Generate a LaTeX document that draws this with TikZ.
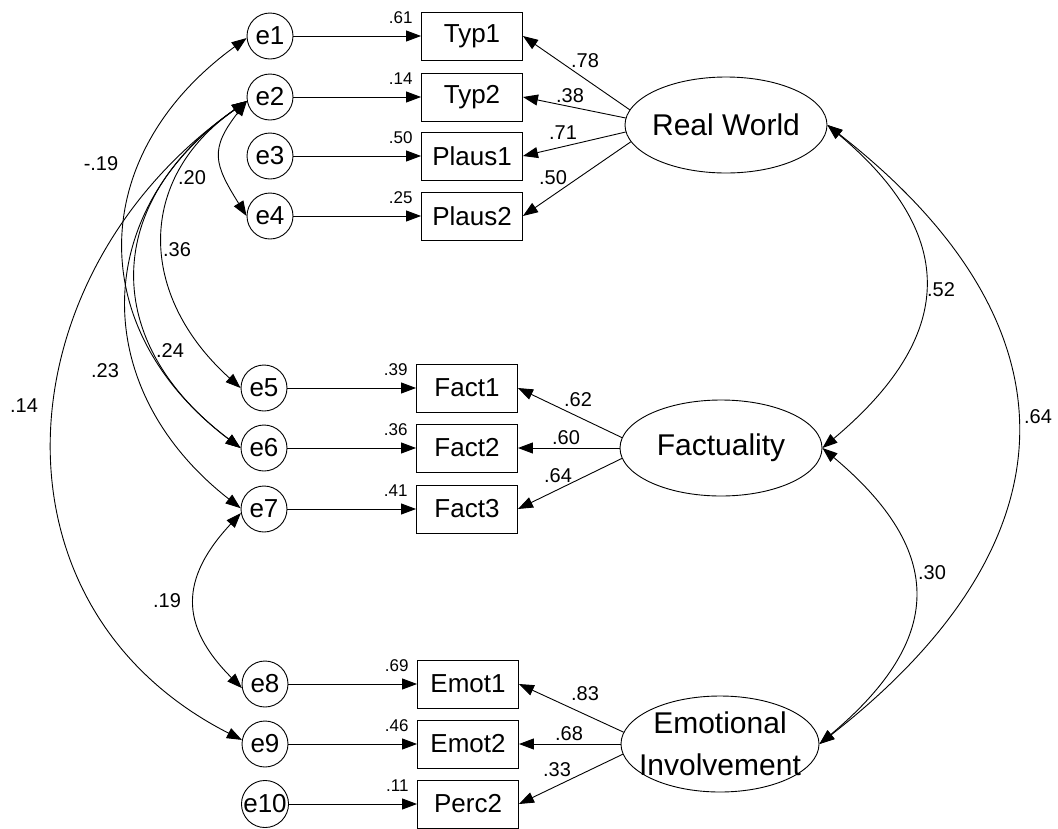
\documentclass[tikz,border=0pt]{standalone}
\usepackage{fontspec}
\setmainfont{Liberation Sans}
\usetikzlibrary{shapes.geometric,arrows.meta}

\begin{document}
\begin{tikzpicture}[x=1pt,y=-1pt,line width=0.9pt,
  err/.style={circle,draw,minimum size=46pt,inner sep=0pt,font=\fontsize{26}{28}\selectfont},
  obs/.style={rectangle,draw,minimum width=101pt,minimum height=48pt,inner sep=0pt,font=\fontsize{26}{28}\selectfont},
  lat/.style={ellipse,draw,minimum width=202pt,minimum height=96pt,inner sep=0pt},
  lattext/.style={align=center,font=\fontsize{30}{42}\selectfont,inner sep=0pt},
  reg/.style={-{Triangle[length=15pt,width=11pt]}},
  cov/.style={{Triangle[length=15pt,width=11pt]}-{Triangle[length=15pt,width=11pt]}},
  coef/.style={font=\fontsize{20}{22}\selectfont,inner sep=0pt},
  rsq/.style={font=\fontsize{17}{19}\selectfont,inner sep=0pt,anchor=north east,xshift=-8pt}]
\useasboundingbox (0,0) rectangle (1058,828);

% error terms
\node[err] (e1) at (270,36) {e1};
\node[err] (e2) at (270,97) {e2};
\node[err] (e3) at (270,156) {e3};
\node[err] (e4) at (270,216) {e4};
\node[err] (e5) at (264,388) {e5};
\node[err] (e6) at (264,448) {e6};
\node[err] (e7) at (264,509) {e7};
\node[err] (e8) at (265,684) {e8};
\node[err] (e9) at (265,744) {e9};
\node[err] (e10) at (265,804) {e10};

% indicators
\node[obs] (Typ1) at (472,36) {Typ1};
\node[obs] (Typ2) at (472,97) {Typ2};
\node[obs] (Plaus1) at (472,156) {Plaus1};
\node[obs] (Plaus2) at (472,216) {Plaus2};
\node[obs] (Fact1) at (467,388) {Fact1};
\node[obs] (Fact2) at (467,448) {Fact2};
\node[obs] (Fact3) at (467,509) {Fact3};
\node[obs] (Emot1) at (468,684) {Emot1};
\node[obs] (Emot2) at (468,744) {Emot2};
\node[obs] (Perc2) at (468,804) {Perc2};

% factors
\node[lat] (RW) at (726,125) {};
\node[lattext] (RWt) at (RW) {Real World};
\node[lat] (Fact) at (721,448) {};
\node[lattext] (Factt) at (Fact) {Factuality};
\node[lat,minimum width=198pt] (EI) at (720,744) {};
\node[lattext] (EIt) at (EI) {Emotional\\Involvement};

% errors to indicators
\draw[reg] (e1) -- (Typ1);
\draw[reg] (e2) -- (Typ2);
\draw[reg] (e3) -- (Plaus1);
\draw[reg] (e4) -- (Plaus2);
\draw[reg] (e5) -- (Fact1);
\draw[reg] (e6) -- (Fact2);
\draw[reg] (e7) -- (Fact3);
\draw[reg] (e8) -- (Emot1);
\draw[reg] (e9) -- (Emot2);
\draw[reg] (e10) -- (Perc2);

% loadings
\draw[reg] (RW.171) -- (Typ1.east);
\draw[reg] (RW.176) -- (Typ2.east);
\draw[reg] (RW.184) -- (Plaus1.east);
\draw[reg] (RW.190) -- (Plaus2.east);
\draw[reg] (Fact.174) -- (Fact1.east);
\draw[reg] (Fact.180) -- (Fact2.east);
\draw[reg] (Fact.186) -- (Fact3.east);
\draw[reg] (EI.173) -- (Emot1.east);
\draw[reg] (EI.180) -- (Emot2.east);
\draw[reg] (EI.186) -- (Perc2.east);

\node[coef] (l1) at (585,61) {.78};
\node[coef] (l2) at (570,96) {.38};
\node[coef] (l3) at (563,133) {.71};
\node[coef] (l4) at (553,178) {.50};
\node[coef] (l5) at (578,400) {.62};
\node[coef] (l6) at (566,438) {.60};
\node[coef] (l7) at (558,476) {.64};
\node[coef] (l8) at (585,694) {.83};
\node[coef] (l9) at (569,734) {.68};
\node[coef] (l10) at (557,770) {.33};

% squared multiple correlations
\node[rsq] (r1) at (Typ1.north west) {.61};
\node[rsq] (r2) at (Typ2.north west) {.14};
\node[rsq] (r3) at (Plaus1.north west) {.50};
\node[rsq] (r4) at (Plaus2.north west) {.25};
\node[rsq] (r5) at (Fact1.north west) {.39};
\node[rsq] (r6) at (Fact2.north west) {.36};
\node[rsq] (r7) at (Fact3.north west) {.41};
\node[rsq] (r8) at (Emot1.north west) {.69};
\node[rsq] (r9) at (Emot2.north west) {.46};
\node[rsq] (r10) at (Perc2.north west) {.11};

% factor covariances
\draw[cov] (RW.east) to[out=-40,in=40,looseness=1.37] (Fact.east);
\draw[cov] (RW.east) to[out=-38,in=38,looseness=1.35] (EI.east);
\draw[cov] (Fact.east) to[out=-40,in=40,looseness=1.4] (EI.east);
\node[coef] (c1) at (941,290) {.52};
\node[coef] (c2) at (1038,417) {.64};
\node[coef] (c3) at (932,573) {.30};

% error covariances
\draw[cov] (e1.185) to[out=-144,in=143,looseness=1.23] (e6.180);
\draw[cov] (e2.190) to[out=-128,in=122,looseness=1.36] (e4.180);
\draw[cov] (e2.190) to[out=-145,in=138,looseness=1.22] (e5.180);
\draw[cov] (e2.190) to[out=-145,in=143,looseness=1.3] (e6.180);
\draw[cov] (e2.190) to[out=-145,in=142,looseness=1.21] (e7.178);
\draw[cov] (e2.190) to[out=-145,in=153,looseness=1.19] (e9.170);
\draw[cov] (e7.190) to[out=-133,in=135,looseness=1.3] (e8.190);
\node[coef] (c4) at (101,164) {-.19};
\node[coef] (c5) at (192,178) {.20};
\node[coef] (c6) at (177,250) {.36};
\node[coef] (c7) at (170,351) {.24};
\node[coef] (c8) at (105,371) {.23};
\node[coef] (c9) at (24,406) {.14};
\node[coef] (c10) at (167,601) {.19};
\end{tikzpicture}
\end{document}
